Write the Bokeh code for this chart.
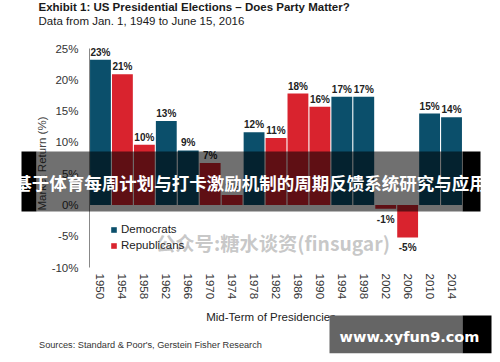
import math
from bokeh.plotting import figure
from bokeh.core.properties import value
from bokeh.models import (ColumnDataSource, Range1d, FixedTicker, LinearAxis,
                          PrintfTickFormatter, Label, BoxAnnotation, Legend, LegendItem,
                          CDSView, GroupFilter)
from bokeh.embed import file_html
from bokeh.resources import INLINE

# ---- data ----
years = ["1950", "1954", "1958", "1962", "1966", "1970", "1974", "1978", "1982",
         "1986", "1990", "1994", "1998", "2002", "2006", "2010", "2014"]
returns = [23.2, 20.9, 9.6, 13.4, 8.7, 6.7, 1.6, 11.6, 10.7,
           17.8, 15.7, 17.3, 17.3, -0.6, -5.2, 14.6, 14.0]
parties = ["Democrats", "Republicans", "Republicans", "Democrats", "Democrats",
           "Republicans", "Republicans", "Democrats", "Republicans", "Republicans",
           "Republicans", "Democrats", "Democrats", "Republicans", "Republicans",
           "Democrats", "Democrats"]
party_names = ["Democrats", "Republicans"]
party_colors = ["#0b4f6b", "#d9232e"]
y_ticks = [-10, -5, 0, 5, 10, 15, 20, 25]
y_min, y_max = -10, 25

title_text = "Exhibit 1: US Presidential Elections \u2013 Does Party Matter?"
subtitle_text = "Data from Jan. 1, 1949 to June 15, 2016"
ylabel_text = "Market Return (%)"
xlabel_text = "Mid-Term of Presidencies"
source_text = "Sources: Standard & Poor's, Gerstein Fisher Research"
banner_text = "基于体育每周计划与打卡激励机制的周期反馈系统研究与应用"
watermark_text = "公众号:糖水谈资(finsugar)"
site_text = "www.xyfun9.com"

FONT = "Liberation Sans"

# ---- geometry (pixels) ----
W, H = 492, 354          # canvas
OX, OY = 0, 0            # page offset of the canvas in the screenshot
CL, CR = 89, 462         # chart area left/right (image px)
CT, CB = 48, 267         # chart area top/bottom (image px)
slot = (CR - CL) / len(years)
kpx = (CB - CT) / (y_max - y_min)

x_start = (OX - CL) / slot - 0.5
x_end = (OX + W - CL) / slot - 0.5
y_end = (CB - OY) / kpx + y_min
y_start = (CB - OY - H) / kpx + y_min

idx = list(range(len(years)))
labels = [f"{round(v)}%" for v in returns]
baselines = ["bottom" if v >= 0 else "top" for v in returns]
offsets = [-2 if v >= 0 else 5 for v in returns]

src = ColumnDataSource(dict(i=idx, year=years, ret=returns, party=parties,
                            lab=labels, base=baselines, off=offsets))

p = figure(width=W, height=H, x_range=Range1d(x_start, x_end),
           y_range=Range1d(y_start, y_end), x_axis_type=None, y_axis_type=None,
           min_border=0, output_backend="svg", toolbar_location=None, title=None)
p.outline_line_color = None
p.grid.grid_line_color = None
p.background_fill_color = "white"
p.border_fill_color = "white"

items = []
for name, col in zip(party_names, party_colors):
    r = p.vbar(x="i", top="ret", width=0.95, source=src, fill_color=col,
               line_color=None,
               view=CDSView(filter=GroupFilter(column_name="party", group=name)))
    items.append(LegendItem(label=name, renderers=[r]))

p.text(x="i", y="ret", text="lab", source=src, text_align="center",
       text_baseline="base", y_offset="off", text_font=value(FONT),
       text_font_size="10px", text_font_style="bold", text_color="#222222")

# y axis, drawn at the chart's left edge
yax = LinearAxis(fixed_location=-0.5, bounds=(y_min, y_max),
                 ticker=FixedTicker(ticks=y_ticks),
                 formatter=PrintfTickFormatter(format="%d%%"))
yax.major_tick_line_color = None
yax.minor_tick_line_color = None
yax.major_tick_out = 0
yax.major_tick_in = 0
yax.major_label_standoff = 11
yax.major_label_text_font = FONT
yax.major_label_text_font_size = "11.5px"
yax.major_label_text_color = "#333333"
yax.axis_line_color = "#888888"
p.add_layout(yax, "left")

# x axis (year labels) under the chart
xax = LinearAxis(fixed_location=y_min, ticker=FixedTicker(ticks=idx),
                 major_label_overrides={i: y for i, y in zip(idx, years)})
xax.axis_line_color = None
xax.major_tick_line_color = None
xax.minor_tick_line_color = None
xax.major_tick_out = 0
xax.major_tick_in = 0
xax.major_label_orientation = "vertical"
xax.major_label_standoff = 6
xax.major_label_text_font = FONT
xax.major_label_text_font_size = "11.5px"
xax.major_label_text_color = "#333333"
p.add_layout(xax, "below")

leg = Legend(items=items)
leg.location = (110 - OX, OY + H - 252)
leg.padding = 0
leg.margin = 0
leg.spacing = 2
leg.border_line_color = None
leg.background_fill_alpha = 0
leg.glyph_width = 7
leg.glyph_height = 7
leg.label_height = 14
leg.label_standoff = 4
leg.label_text_font = FONT
leg.label_text_font_size = "11.5px"
leg.label_text_color = "#222222"
p.add_layout(leg, "center")


def lab(text, X, Y, size, color="#222222", style="normal", align="left",
        angle=0, font=FONT, alpha=1.0):
    p.add_layout(Label(x=X - OX, y=OY + H - Y, x_units="screen", y_units="screen",
                       text=text, text_font=font, text_font_size=size,
                       text_font_style=style, text_color=color, text_alpha=alpha,
                       text_align=align, text_baseline="middle", angle=angle,
                       level="overlay"))


def box(L, R, T, B, color, alpha):
    p.add_layout(BoxAnnotation(left=L - OX, right=R - OX, top=OY + H - T,
                               bottom=OY + H - B,
                               left_units="screen", right_units="screen",
                               top_units="screen", bottom_units="screen",
                               fill_color=color, fill_alpha=alpha, line_color=None,
                               level="overlay"))


lab(title_text, 38, 6.5, "11.5px", style="bold", color="#1a1a1a")
lab(subtitle_text, 38, 20, "11.5px", color="#1a1a1a")
lab(ylabel_text, 41.5, 163, "11.5px", color="#444444", align="center",
    angle=math.pi / 2)
lab(xlabel_text, 270.5, 316.7, "11.5px", color="#222222", align="center")
lab(source_text, 38.5, 344, "9.2px", color="#333333")

# overlays present in the reference image
lab(watermark_text, 272.5, 242, "19.3px", color="#999999", style="bold",
    align="center", font="Noto Sans CJK SC", alpha=0.55)
box(21, 36, 151, 211, "black", 1.0)
box(36, 462, 151, 211, "black", 0.56)
box(462, 480, 151, 211, "black", 1.0)
lab(banner_text, 250, 181.5, "17.5px", color="white", style="bold",
    align="center", font="Noto Sans CJK SC")
box(329, 462, 315, 352.7, "#656565", 1.0)
box(462, 491, 315, 352.7, "black", 1.0)
lab(site_text, 409, 336, "14.5px", color="white", style="bold",
    align="center", font="DejaVu Sans")

open("out.html", "w").write(file_html(p, INLINE))
